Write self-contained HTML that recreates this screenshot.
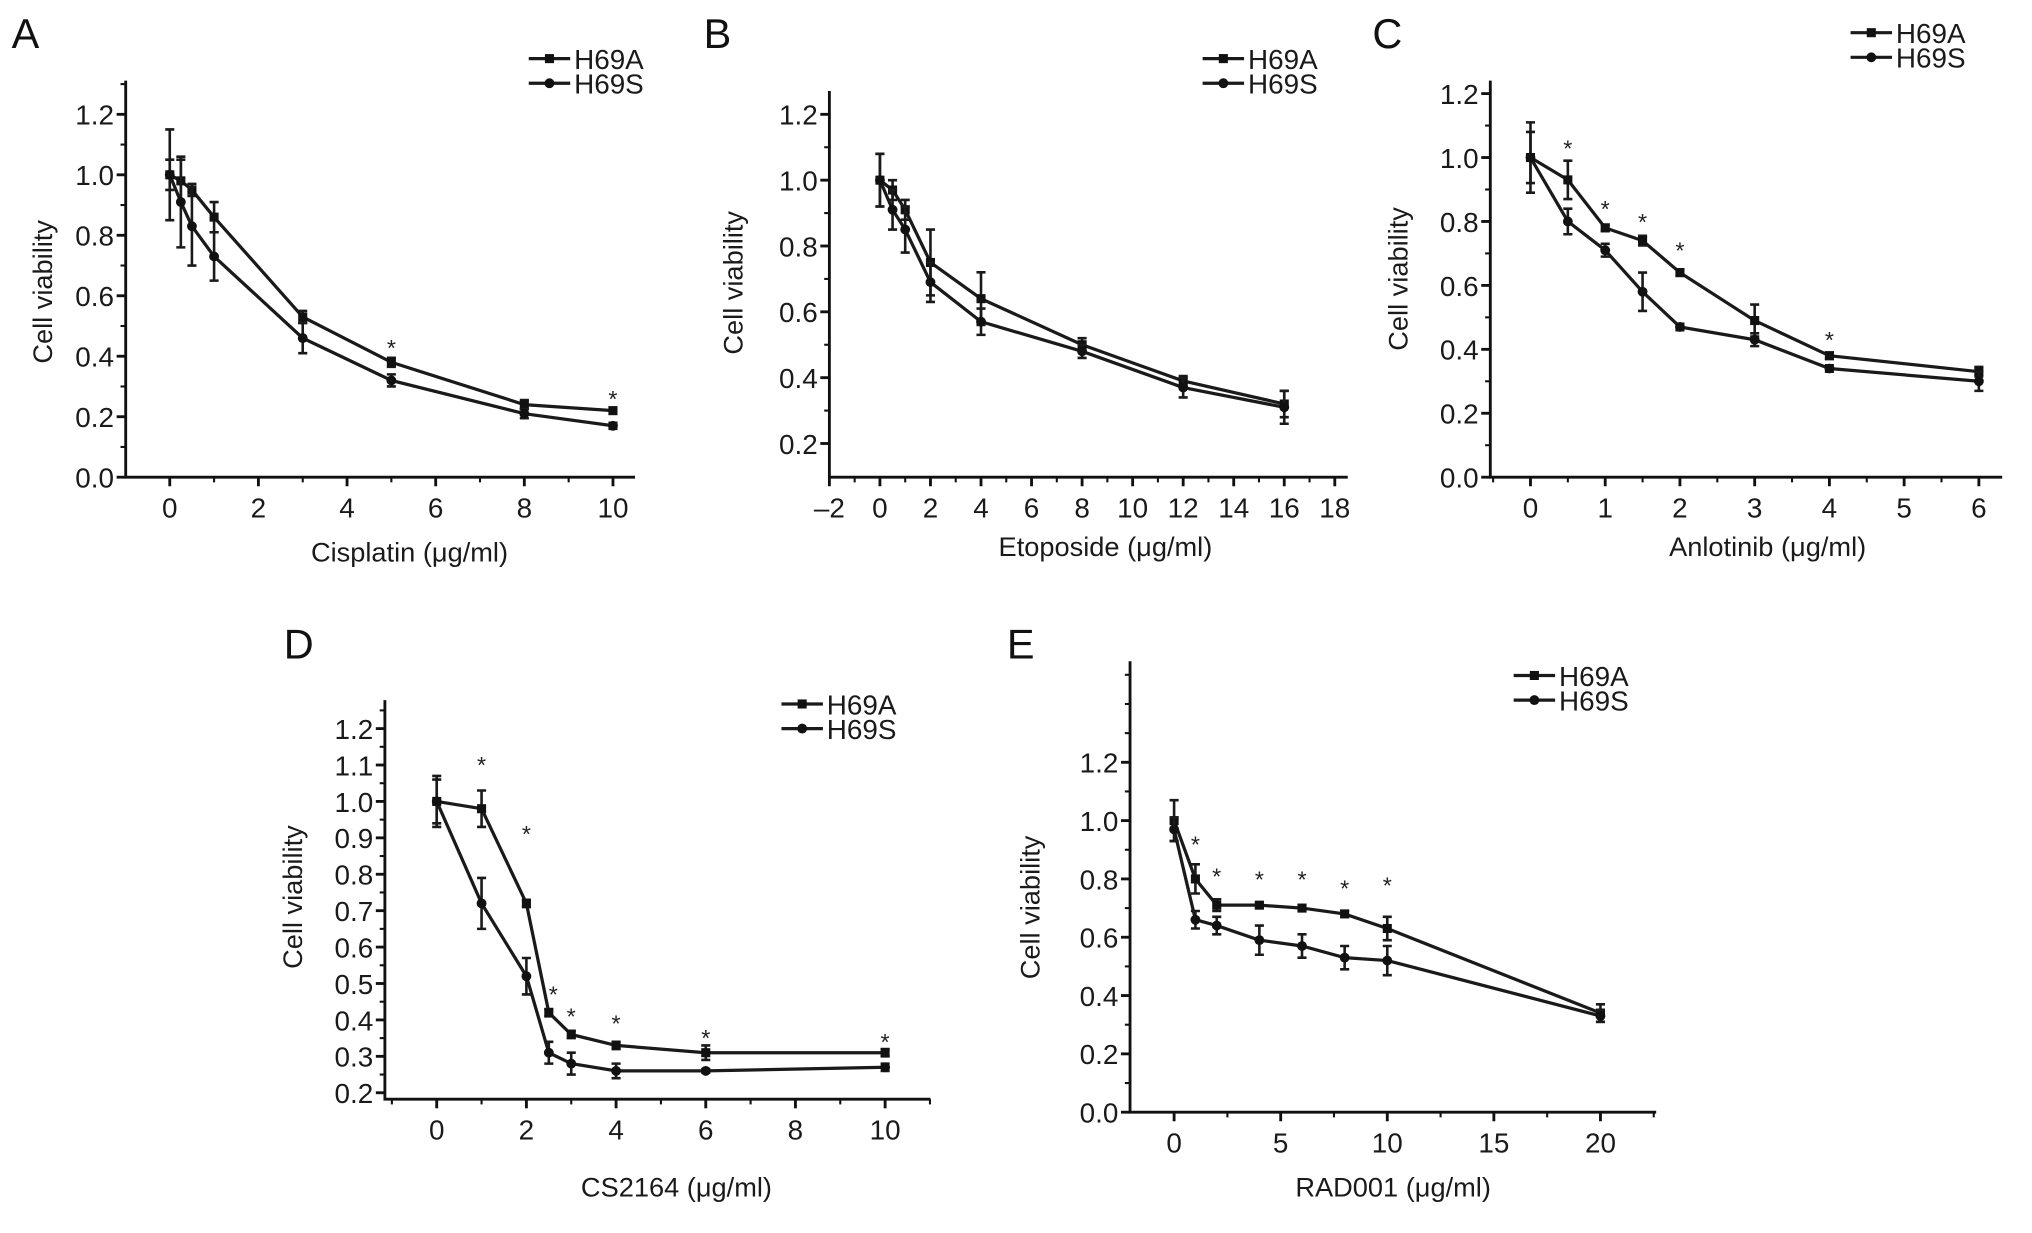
<!DOCTYPE html>
<html><head><meta charset="utf-8">
<style>
html,body{margin:0;padding:0;background:#fff;}
svg{display:block;font-family:"Liberation Sans",Arial,sans-serif;}
</style></head>
<body>
<svg id="fig" width="2032" height="1233" viewBox="0 0 1568 951" xmlns="http://www.w3.org/2000/svg"></svg>
<script>
// ---------- Panel A: Cisplatin ----------
const aDoses = [0,0.25,0.5,1,3,5,8,10];
const aH69A = [1.0,0.98,0.95,0.86,0.53,0.38,0.24,0.22];
const aH69AErr = [0.05,0.07,0.02,0.05,0.02,0.015,0.015,0.01];
const aH69S = [1.0,0.91,0.83,0.73,0.46,0.32,0.21,0.17];
const aH69SErr = [0.15,0.15,0.13,0.08,0.05,0.02,0.015,0.01];
const aStarX = [5,10];
const aStarY = [0.44,0.27];
const aXTicks = [0,2,4,6,8,10];
const aYTicks = [0.0,0.2,0.4,0.6,0.8,1.0,1.2];
// ---------- Panel B: Etoposide ----------
const bDoses = [0,0.5,1,2,4,8,12,16];
const bH69A = [1.0,0.97,0.91,0.75,0.64,0.50,0.39,0.32];
const bH69AErr = [0.08,0.03,0.03,0.1,0.08,0.02,0.015,0.04];
const bH69S = [1.0,0.91,0.85,0.69,0.57,0.48,0.37,0.31];
const bH69SErr = [0.08,0.06,0.07,0.06,0.04,0.02,0.03,0.05];
const bStarX = [];
const bStarY = [];
const bXTicks = [-2,0,2,4,6,8,10,12,14,16,18];
const bYTicks = [0.2,0.4,0.6,0.8,1.0,1.2];
// ---------- Panel C: Anlotinib ----------
const cDoses = [0,0.5,1,1.5,2,3,4,6];
const cH69A = [1.0,0.93,0.78,0.74,0.64,0.49,0.38,0.33];
const cH69AErr = [0.11,0.06,0.01,0.015,0.01,0.05,0.01,0.015];
const cH69S = [1.0,0.80,0.71,0.58,0.47,0.43,0.34,0.30];
const cH69SErr = [0.08,0.04,0.02,0.06,0.01,0.02,0.01,0.03];
const cStarX = [0.5,1,1.5,2,4];
const cStarY = [1.04,0.85,0.81,0.72,0.44];
const cXTicks = [0,1,2,3,4,5,6];
const cYTicks = [0.0,0.2,0.4,0.6,0.8,1.0,1.2];
// ---------- Panel D: CS2164 ----------
const dDoses = [0,1,2,2.5,3,4,6,10];
const dH69A = [1.0,0.98,0.72,0.42,0.36,0.33,0.31,0.31];
const dH69AErr = [0.07,0.05,0.01,0.01,0.01,0.01,0.02,0.01];
const dH69S = [1.0,0.72,0.52,0.31,0.28,0.26,0.26,0.27];
const dH69SErr = [0.06,0.07,0.05,0.03,0.03,0.02,0.005,0.01];
const dStarX = [1,2,2.6,3,4,6,10];
const dStarY = [1.11,0.92,0.48,0.42,0.40,0.36,0.35];
const dXTicks = [0,2,4,6,8,10];
const dYTicks = [0.2,0.3,0.4,0.5,0.6,0.7,0.8,0.9,1.0,1.1,1.2];
const dYTickLabels = ["0.2","0.3","0.4","0.5","0.6","0.7","0.8","0.9","1.0","1.1","1.2"];
// ---------- Panel E: RAD001 ----------
const eDoses = [0,1,2,4,6,8,10,20];
const eH69A = [1.0,0.80,0.71,0.71,0.70,0.68,0.63,0.34];
const eH69AErr = [0.07,0.05,0.02,0.01,0.01,0.01,0.04,0.03];
const eH69S = [0.97,0.66,0.64,0.59,0.57,0.53,0.52,0.33];
const eH69SErr = [0.04,0.03,0.03,0.05,0.04,0.04,0.05,0.02];
const eStarX = [1,2,4,6,8,10];
const eStarY = [0.93,0.82,0.81,0.81,0.78,0.79];
const eXTicks = [0,5,10,15,20];
const eYTicks = [0.0,0.2,0.4,0.6,0.8,1.0,1.2];

const NS = "http://www.w3.org/2000/svg";
const svg = document.getElementById('fig');
function mk(tag, attrs, parent){
  const el = document.createElementNS(NS, tag);
  for (const k in attrs) el.setAttribute(k, attrs[k]);
  (parent||svg).appendChild(el);
  return el;
}

const panels = [
 {id:'a', letter:'A', lx:9, ly:37, doses:aDoses, A:aH69A, Ae:aH69AErr, S:aH69S, Se:aH69SErr, sx:aStarX, sy:aStarY,
  xt:aXTicks, yt:aYTicks, ytl:null, xminor:1, yminor:0.1,
  axX:97, axTop:62, axBot:368, axRight:490, x0:131, x1:473, xv0:0, xv1:10, y0:368, y1:88, yv0:0, yv1:1.2,
  xlabel:'Cisplatin (μg/ml)', xlx:316, xly:433, ylx:40, yly:225, legX:408, legY:45},
 {id:'b', letter:'B', lx:543, ly:37, doses:bDoses, A:bH69A, Ae:bH69AErr, S:bH69S, Se:bH69SErr, sx:bStarX, sy:bStarY,
  xt:bXTicks, yt:bYTicks, ytl:null, xminor:1, yminor:0.1,
  axX:640, axTop:70, axBot:368, axRight:1040, x0:679, x1:1030, xv0:0, xv1:18, y0:342, y1:88, yv0:0.2, yv1:1.2,
  xlabel:'Etoposide (μg/ml)', xlx:853, xly:429, ylx:573, yly:218, legX:928, legY:45},
 {id:'c', letter:'C', lx:1059, ly:37, doses:cDoses, A:cH69A, Ae:cH69AErr, S:cH69S, Se:cH69SErr, sx:cStarX, sy:cStarY,
  xt:cXTicks, yt:cYTicks, ytl:null, xminor:0.5, yminor:0.1,
  axX:1150, axTop:62, axBot:368, axRight:1545, x0:1181, x1:1527, xv0:0, xv1:6, y0:368, y1:72, yv0:0, yv1:1.2,
  xlabel:'Anlotinib (μg/ml)', xlx:1364, xly:429, ylx:1086, yly:215, legX:1428, legY:25},
 {id:'d', letter:'D', lx:219, ly:508, doses:dDoses, A:dH69A, Ae:dH69AErr, S:dH69S, Se:dH69SErr, sx:dStarX, sy:dStarY,
  xt:dXTicks, yt:dYTicks, ytl:dYTickLabels, xminor:1, yminor:0.05,
  axX:297, axTop:540, axBot:848, axRight:718, x0:337, x1:683, xv0:0, xv1:10, y0:843, y1:562, yv0:0.2, yv1:1.2,
  xlabel:'CS2164 (μg/ml)', xlx:522, xly:923, ylx:233, yly:692, legX:603, legY:543},
 {id:'e', letter:'E', lx:777, ly:508, doses:eDoses, A:eH69A, Ae:eH69AErr, S:eH69S, Se:eH69SErr, sx:eStarX, sy:eStarY,
  xt:eXTicks, yt:eYTicks, ytl:null, xminor:2.5, yminor:0.1,
  axX:872, axTop:510, axBot:858, axRight:1278, x0:906, x1:1235, xv0:0, xv1:20, y0:858, y1:588, yv0:0, yv1:1.2,
  xlabel:'RAD001 (μg/ml)', xlx:1075, xly:923, ylx:802, yly:700, legX:1168, legY:521}
];
const FS = 21.5;

panels.forEach(p=>{
  const g = mk('g', {});
  
  
  const X = v => p.x0 + (v - p.xv0) * (p.x1 - p.x0) / (p.xv1 - p.xv0);
  const Y = v => p.y0 + (v - p.yv0) * (p.y1 - p.y0) / (p.yv1 - p.yv0);

  const lt = mk('text', {x:p.lx, y:p.ly, 'font-size':32, fill:'#111'}, g);
  lt.textContent = p.letter;
  
  

  const ax = mk('path', {d:`M${p.axX},${p.axTop}V${p.axBot}H${p.axRight}`, fill:'none', stroke:'#111', 'stroke-width':2.2}, g);
  
  

  const yLo = p.yv0 + (p.axBot - p.y0) / ((p.y1 - p.y0)/(p.yv1 - p.yv0));
  const yHi = p.yv0 + (p.axTop - p.y0) / ((p.y1 - p.y0)/(p.yv1 - p.yv0));
  for (let v = Math.ceil(yLo/p.yminor - 1e-6)*p.yminor; v <= yHi + 1e-6; v += p.yminor){
    const y = Y(v);
    if (y > p.axBot - 1) continue;
    mk('line', {x1:p.axX-4, x2:p.axX, y1:y, y2:y, stroke:'#111', 'stroke-width':1.6}, g);
  }
  p.yt.forEach((v,i)=>{
    const y = Y(v);
    mk('line', {x1:p.axX-7, x2:p.axX, y1:y, y2:y, stroke:'#111', 'stroke-width':2.2}, g);
    const t = mk('text', {x:p.axX-9, y:y+8, 'font-size':FS, 'text-anchor':'end', fill:'#1a1a1a'}, g);
    t.textContent = p.ytl ? p.ytl[i] : v.toFixed(1);
    
    
  });
  const xLo = p.xv0 + (p.axX - p.x0)/((p.x1-p.x0)/(p.xv1-p.xv0));
  const xHi = p.xv0 + (p.axRight - p.x0)/((p.x1-p.x0)/(p.xv1-p.xv0));
  for (let v = Math.ceil(xLo/p.xminor - 1e-6)*p.xminor; v <= xHi + 1e-6; v += p.xminor){
    const x = X(v);
    mk('line', {x1:x, x2:x, y1:p.axBot, y2:p.axBot+4, stroke:'#111', 'stroke-width':1.6}, g);
  }
  p.xt.forEach(v=>{
    const x = X(v);
    mk('line', {x1:x, x2:x, y1:p.axBot, y2:p.axBot+7, stroke:'#111', 'stroke-width':2.2}, g);
    const t = mk('text', {x:x, y:p.axBot+31, 'font-size':FS, 'text-anchor':'middle', fill:'#1a1a1a'}, g);
    t.textContent = v < 0 ? '–' + Math.abs(v) : String(v);
    
    
  });
  const xl = mk('text', {x:p.xlx, y:p.xly, 'font-size':21, 'text-anchor':'middle', fill:'#1a1a1a'}, g);
  xl.textContent = p.xlabel;
  
  
  const yl = mk('text', {x:p.ylx, y:p.yly, 'font-size':21, 'text-anchor':'middle', fill:'#1a1a1a', transform:`rotate(-90 ${p.ylx} ${p.yly})`}, g);
  yl.textContent = 'Cell viability';
  
  

  [['h69a', p.A, p.Ae, 'sq'], ['h69s', p.S, p.Se, 'ci']].forEach(([nm, vals, errs, mkType])=>{
    const sg = mk('g', {}, g);
    
    
    const d = vals.map((v,i)=>(i?'L':'M')+X(p.doses[i])+','+Y(v)).join('');
    const ln = mk('path', {d:d, fill:'none', stroke:'#1a1a1a', 'stroke-width':2.5}, sg);
    
    
    vals.forEach((v,i)=>{
      const x = X(p.doses[i]), y = Y(v), yt = Y(v+errs[i]), yb = Y(v-errs[i]);
      const eb = mk('path', {d:`M${x},${yt}V${yb}M${x-3.5},${yt}h7M${x-3.5},${yb}h7`, stroke:'#1a1a1a', 'stroke-width':2, fill:'none'}, sg);
      
      
      let m;
      if (mkType==='sq') m = mk('rect', {x:x-3.5, y:y-3.5, width:7, height:7, fill:'#111'}, sg);
      else m = mk('circle', {cx:x, cy:y, r:3.8, fill:'#111'}, sg);
      
      
    });
  });
  p.sx.forEach((v,i)=>{
    const s = mk('text', {x:X(v), y:Y(p.sy[i])+9, 'font-size':18, 'text-anchor':'middle', fill:'#222'}, g);
    s.textContent = '*';
    
    
  });
  [['H69A','sq',0],['H69S','ci',1]].forEach(([lab,mkType,k])=>{
    const lg = mk('g', {}, g);
    
    
    const y = p.legY + k*19;
    mk('line', {x1:p.legX, x2:p.legX+32, y1:y, y2:y, stroke:'#1a1a1a', 'stroke-width':2.5}, lg);
    if (mkType==='sq') mk('rect', {x:p.legX+12.5, y:y-3.5, width:7, height:7, fill:'#111'}, lg);
    else mk('circle', {cx:p.legX+16, cy:y, r:3.8, fill:'#111'}, lg);
    const t = mk('text', {x:p.legX+35, y:y+8, 'font-size':21.5, fill:'#1a1a1a'}, lg);
    t.textContent = lab;
  });
});
</script>
</body></html>
